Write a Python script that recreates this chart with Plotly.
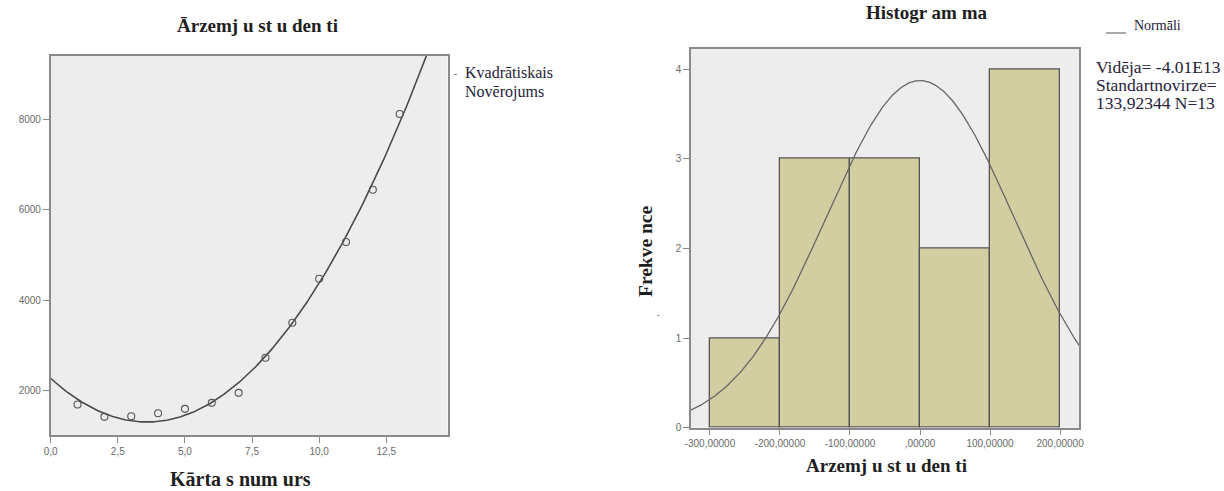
import numpy as np
import plotly.graph_objects as go

# Scatter: order number vs. foreign students
order_no = [1, 2, 3, 4, 5, 6, 7, 8, 9, 10, 11, 12, 13]
students = [1683, 1409, 1423, 1489, 1587, 1720, 1942, 2720, 3496, 4473, 5286, 6446, 8127]
left_xticks = [0, 2.5, 5, 7.5, 10, 12.5]
left_xtext = ["0,0", "2,5", "5,0", "7,5", "10,0", "12,5"]
left_yticks = [2000, 4000, 6000, 8000]

# Histogram of residuals
bin_starts = [-300, -200, -100, 0, 100]
bin_counts = [1, 3, 3, 2, 4]
bin_width = 100
hist_mean = -4.01e-13
hist_sd = 133.92344
hist_n = 13
hist_xticks = [-300, -200, -100, 0, 100, 200]
hist_xtext = ["-300,00000", "-200,00000", "-100,00000", ",00000", "100,00000", "200,00000"]
hist_yticks = [0, 1, 2, 3, 4]

W, H = 1224, 491

def px_x(p):
    return p / W

def px_y(p):
    return 1 - p / H

# quadratic fit line
coef = np.polyfit(order_no, students, 2)
xf = np.linspace(0, 15, 300)
yf = np.polyval(coef, xf)

# normal curve scaled to counts
xn = np.linspace(-330, 230, 400)
yn = hist_n * bin_width / (hist_sd * np.sqrt(2 * np.pi)) * np.exp(-0.5 * ((xn - hist_mean) / hist_sd) ** 2)

fig = go.Figure()

fig.add_trace(go.Scatter(x=xf, y=yf, mode="lines", line=dict(color="#4a4a4a", width=1.6),
                         xaxis="x", yaxis="y", hoverinfo="skip"))
fig.add_trace(go.Scatter(x=order_no, y=students, mode="markers",
                         marker=dict(symbol="circle-open", size=7, color="#555555", line=dict(width=1.1)),
                         xaxis="x", yaxis="y"))

fig.add_trace(go.Bar(x=[s + bin_width / 2 for s in bin_starts], y=bin_counts, width=bin_width,
                     marker=dict(color="#d2cea2", line=dict(color="#555555", width=1.3)),
                     xaxis="x2", yaxis="y2"))
fig.add_trace(go.Scatter(x=xn, y=yn, mode="lines", line=dict(color="#666666", width=1.3),
                         xaxis="x2", yaxis="y2", hoverinfo="skip"))

tickfont = dict(family="Liberation Sans", size=10, color="#6a6a6a")
frame = dict(showline=True, linecolor="#8a8a8a", linewidth=1.5, mirror=True,
             ticks="outside", ticklen=6, tickcolor="#8a8a8a", tickwidth=1,
             showgrid=False, zeroline=False, tickfont=tickfont, automargin=False)

fig.update_layout(
    width=W, height=H,
    margin=dict(l=0, r=0, t=0, b=0, autoexpand=False),
    paper_bgcolor="white",
    plot_bgcolor="#ededed",
    showlegend=False,
    bargap=0,
    xaxis=dict(domain=[px_x(50.7), px_x(447.5)], range=[0, 14.78],
               tickvals=left_xticks, ticktext=left_xtext, anchor="y", **frame),
    yaxis=dict(domain=[px_y(435.3), px_y(55.7)], range=[1000, 9420],
               tickvals=left_yticks, anchor="x", **frame),
    xaxis2=dict(domain=[px_x(691), px_x(1079)], range=[-327, 227],
                tickvals=hist_xticks, ticktext=hist_xtext, anchor="y2", **frame),
    yaxis2=dict(domain=[px_y(427.7), px_y(48.5)], range=[0, 4.23],
                tickvals=hist_yticks, anchor="x2", **frame),
)

serif = "Liberation Serif"
ink = "#26223a"

def note(x, y, text, size, bold=False, xanchor="center", angle=0, color=ink):
    fig.add_annotation(x=px_x(x), y=px_y(y), xref="paper", yref="paper", text=f"<b>{text}</b>" if bold else text,
                       showarrow=False, xanchor=xanchor, yanchor="middle", textangle=angle, borderpad=0,
                       font=dict(family=serif, size=size, color=color))

note(257, 25, "Ārzemj u st u den ti", 19, bold=True, color="#1e1e1e")
note(240, 479, "Kārta s num urs", 20, bold=True, color="#1e1e1e")
note(927, 13, "Histogr am ma", 19, bold=True, color="#1e1e1e")
note(886, 465, "Arzemj u st u den ti", 19, bold=True, color="#1e1e1e")
note(645, 252, "Frekve nce", 19.5, bold=True, angle=-90, color="#1e1e1e")
note(658, 315, "-", 8, color="#444444")

# scatter legend
note(453, 74, "-", 9, xanchor="left")
note(464, 72, "Kvadrātiskais", 16, xanchor="left")
note(464, 92, "Novērojums", 16, xanchor="left")

# histogram legend and statistics
fig.add_shape(type="line", xref="paper", yref="paper", x0=px_x(1106), x1=px_x(1126), y0=px_y(33), y1=px_y(33),
              line=dict(color="#555555", width=1))
note(1133, 25, "Normāli", 14, xanchor="left")
note(1095, 67, "Vidēja= -4.01E13", 17.5, xanchor="left")
note(1095, 85, "Standartnovirze=", 17.5, xanchor="left")
note(1095, 103, "133,92344 N=13", 17.5, xanchor="left")

fig.write_html("out.html")
